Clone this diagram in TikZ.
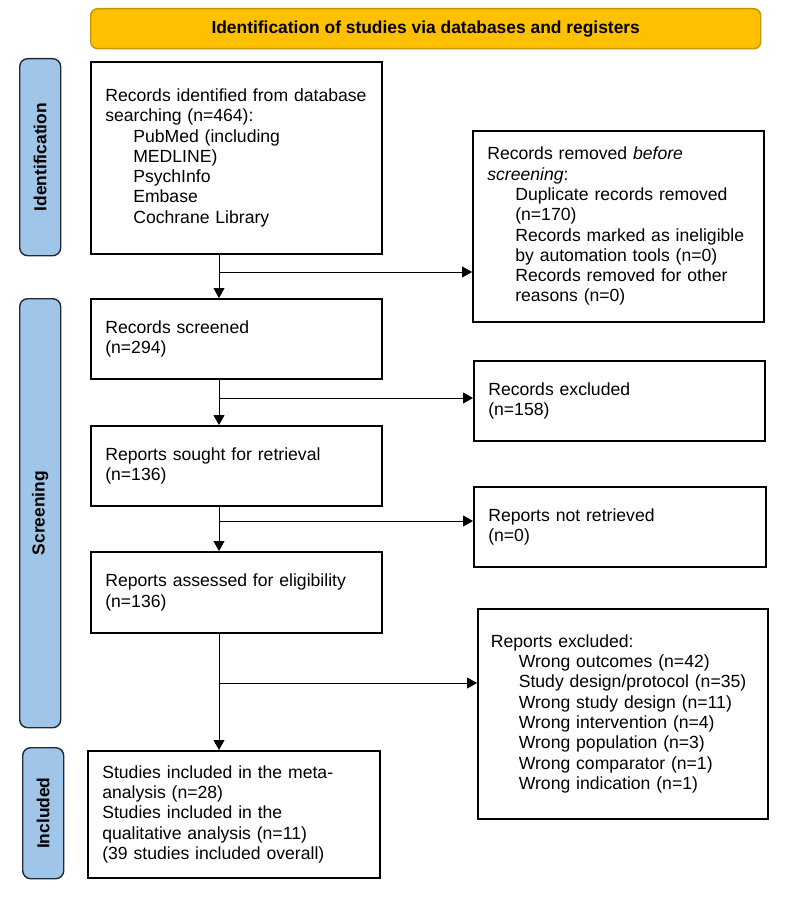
\documentclass[tikz,border=0pt]{standalone}
\usepackage{fontspec}
\setmainfont{Liberation Sans}
\usetikzlibrary{arrows.meta}
\definecolor{hdrfill}{HTML}{FFC000}
\definecolor{hdrline}{HTML}{C49500}
\definecolor{sidefill}{HTML}{9FC5E8}
\definecolor{sideline}{HTML}{222A35}
\tikzset{
  txt/.style={font=\fontsize{17.6}{20.3}\selectfont},
  box/.style={draw=black, line width=1.6pt, txt, align=left, inner xsep=14.5pt, inner ysep=0pt, anchor=north west},
  side/.style={draw=sideline, fill=sidefill, line width=1.4pt, rounded corners=8pt, anchor=north west, inner sep=0pt},
  sidetxt/.style={font=\bfseries\fontsize{17.4}{20}\selectfont, rotate=90},
  arr/.style={line width=0.9pt, -{Triangle[length=10pt,width=11pt]}},
}
\newcommand{\ind}{\hspace*{28pt}}
\begin{document}
\begin{tikzpicture}[x=1pt,y=-1pt]
\useasboundingbox (0,0) rectangle (792,901);
% header
\node[draw=hdrline, fill=hdrfill, line width=1.4pt, rounded corners=7pt, anchor=north west, minimum width=670pt, minimum height=40pt, inner sep=0pt, font=\bfseries\fontsize{17.4}{20}\selectfont] (hdr) at (90,8) {Identification of studies via databases and registers};
% side labels
\node[side, minimum width=41pt, minimum height=197pt] (sid) at (19,58) {};
\node[sidetxt] (sidt) at (sid.center) {Identification};
\node[side, minimum width=41pt, minimum height=429pt] (ssc) at (19,298) {};
\node[sidetxt] (ssct) at (ssc.center) {Screening};
\node[side, minimum width=41pt, minimum height=131pt] (sin) at (22,747) {};
\node[sidetxt] (sint) at (sin.center) {Included};
% boxes
\node[box, text width=262pt, minimum height=192pt] (b1) at (90,61) {Records identified from database\\searching (n=464):\\\ind PubMed (including\\\ind MEDLINE)\\\ind PsychInfo\\\ind Embase\\\ind Cochrane Library};
\node[box, text width=262pt, minimum height=191pt] (r1) at (472,130) {Records removed \textit{before}\\\textit{screening}:\\\ind Duplicate records removed\\\ind (n=170)\\\ind Records marked as ineligible\\\ind by automation tools (n=0)\\\ind Records removed for other\\\ind reasons (n=0)};
\node[box, text width=262pt, minimum height=80pt] (b2) at (90,298) {Records screened\\(n=294)};
\node[box, text width=262pt, minimum height=80pt] (r2) at (473,360) {Records excluded\\(n=158)};
\node[box, text width=262pt, minimum height=80pt] (b3) at (90,425) {Reports sought for retrieval\\(n=136)};
\node[box, text width=263pt, minimum height=80pt] (r3) at (473,486) {Reports not retrieved\\(n=0)};
\node[box, text width=262pt, minimum height=81pt] (b4) at (90,551) {Reports assessed for eligibility\\(n=136)};
\node[box, text width=264pt, minimum height=210pt, inner xsep=13pt] (r4) at (477,608) {Reports excluded:\\\ind Wrong outcomes (n=42)\\\ind Study design/protocol (n=35)\\\ind Wrong study design (n=11)\\\ind Wrong intervention (n=4)\\\ind Wrong population (n=3)\\\ind Wrong comparator (n=1)\\\ind Wrong indication (n=1)};
\node[box, text width=263pt, minimum height=127pt] (b5) at (87,750) {Studies included in the meta-\\analysis (n=28)\\Studies included in the\\qualitative analysis (n=11)\\(39 studies included overall)};
% connectors
\coordinate (j1) at (219,272);
\coordinate (j2) at (219,398);
\coordinate (j3) at (219,521);
\coordinate (j4) at (219,683);
\draw[arr] (b1.south -| j1) -- (b2.north -| j1);
\draw[arr] (j1) -- (j1 -| r1.west);
\draw[arr] (b2.south -| j2) -- (b3.north -| j2);
\draw[arr] (j2) -- (j2 -| r2.west);
\draw[arr] (b3.south -| j3) -- (b4.north -| j3);
\draw[arr] (j3) -- (j3 -| r3.west);
\draw[arr] (b4.south -| j4) -- (b5.north -| j4);
\draw[arr] (j4) -- (j4 -| r4.west);
\end{tikzpicture}
\end{document}
